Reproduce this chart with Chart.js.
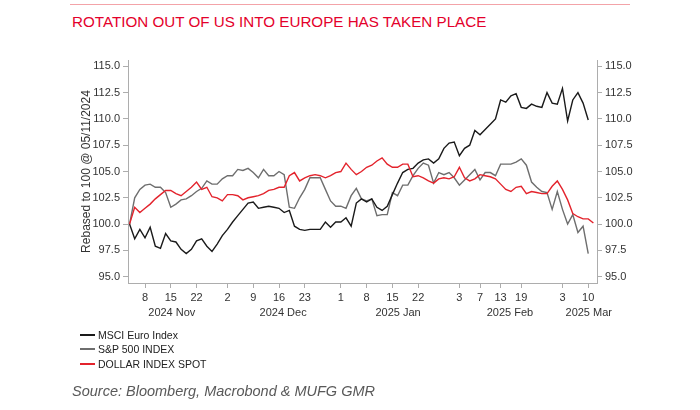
<!DOCTYPE html>
<html>
<head>
<meta charset="utf-8">
<script src="https://cdn.jsdelivr.net/npm/chart.js@4.4.1/dist/chart.umd.min.js"></script>
<style>
  html, body { margin: 0; padding: 0; background: #fff; }
  #wrap { position: relative; width: 700px; height: 410px; overflow: hidden; font-family: "Liberation Sans", Arial, sans-serif; }
  #topline { position: absolute; left: 70px; top: 4px; width: 560px; height: 1px; background: #f3a3a8; }
  #title { position: absolute; left: 72px; top: 13px; font-size: 15.2px; color: #e4002b; white-space: nowrap; }
  #chart { position: absolute; left: 0; top: 0; }
  .leg { position: absolute; left: 80px; font-size: 10.5px; color: #222; white-space: nowrap; line-height: 12px; }
  .leg i { display: inline-block; width: 15px; height: 1.5px; vertical-align: middle; margin-right: 3px; position: relative; top: -1px; }
  #source { position: absolute; left: 72px; top: 383px; font-size: 14.5px; font-style: italic; color: #595959; white-space: nowrap; }
</style>
</head>
<body>
<div id="wrap">
  <div id="topline"></div>
  <div id="title">ROTATION OUT OF US INTO EUROPE HAS TAKEN PLACE</div>
  <canvas id="chart" width="700" height="410"></canvas>
  <div class="leg" style="top:329px"><i style="background:#1a1a1a"></i>MSCI Euro Index</div>
  <div class="leg" style="top:343px"><i style="background:#6e6e6e"></i>S&amp;P 500 INDEX</div>
  <div class="leg" style="top:358px"><i style="background:#e3232c"></i>DOLLAR INDEX SPOT</div>
  <div id="source">Source: Bloomberg, Macrobond &amp; MUFG GMR</div>
</div>
<script>
// trading days from 5 Nov 2024 (index 0) to 11 Mar 2025
const msci = [
  100, 98.6, 99.5, 98.7, 99.7, 97.9, 97.7, 99.1, 98.4, 98.3,
  97.6, 97.2, 97.6, 98.4, 98.6, 97.9, 97.4, 98.1, 98.9, 99.5,
  100.2, 100.8, 101.4, 102.0, 102.1, 101.5, 101.6, 101.7, 101.6, 101.5,
  101.1, 101.3, 99.8, 99.5, 99.4, 99.5, 99.5, 99.5, 100.2, 99.7,
  100.2, 100.2, 100.6, 99.8, 102.0, 102.4, 102.1, 102.4, 101.6, 101.3,
  101.7, 102.8, 103.9, 104.9, 105.2, 105.3, 105.8, 106.1, 106.2, 105.8,
  106.2, 107.2, 107.7, 107.8, 106.5, 107.2, 107.5, 108.9, 108.5, 109.0,
  109.5, 110.0, 111.8, 111.6, 112.2, 112.4, 111.1, 111.0, 111.4, 111.2,
  111.1, 112.5, 111.5, 111.4, 112.9, 109.8, 111.8, 112.5, 111.5, 109.9
];
const spx = [
  100, 102.5, 103.3, 103.7, 103.8, 103.5, 103.5, 103.0, 101.6, 101.9,
  102.3, 102.4, 102.7, 103.1, 103.4, 104.1, 103.8, 103.8, 104.3, 104.6,
  104.6, 105.2, 105.1, 105.3, 104.9, 104.4, 105.2, 104.6, 104.6, 105.0,
  104.7, 101.6, 101.5, 102.5, 103.3, 104.4, 104.4, 104.4, 103.3, 102.2,
  101.7, 101.7, 101.5, 102.7, 103.4, 102.4, 102.2, 102.4, 100.8, 100.9,
  100.9, 103.0, 102.7, 103.7, 103.7, 104.6, 105.3, 105.8, 105.6, 103.9,
  104.9, 104.7, 104.9, 104.4, 103.7, 104.2, 104.7, 105.2, 104.2, 104.9,
  104.9, 104.6, 105.7, 105.7, 105.7, 105.9, 106.2, 105.6, 104.0, 103.5,
  103.1, 103.0, 101.4, 103.1, 101.4, 100.0, 100.9, 99.2, 99.8, 97.2
];
const dxy = [
  100, 101.6, 101.1, 101.5, 101.9, 102.4, 102.8, 103.2, 103.2, 102.9,
  102.7, 103.1, 103.5, 104.0, 103.3, 103.5, 102.6, 102.5, 102.2, 102.8,
  102.8, 102.7, 102.3, 102.5, 102.6, 102.7, 102.9, 103.2, 103.3, 103.5,
  103.5, 104.6, 104.9, 104.1, 104.4, 104.6, 104.7, 104.6, 104.4, 104.6,
  104.9, 105.0, 105.8, 105.2, 104.7, 105.0, 105.4, 105.6, 106.0, 106.3,
  105.7, 105.4, 105.4, 105.7, 105.7, 104.5, 104.6, 104.4, 104.1, 103.9,
  104.3, 104.4, 104.3, 104.5, 105.4, 104.4, 104.1, 104.3, 104.7, 104.6,
  104.5, 104.3, 103.8, 103.3, 103.1, 103.5, 103.6, 102.9, 103.1, 103.0,
  102.9, 102.9, 103.6, 104.1, 103.3, 102.3, 101.0, 100.7, 100.5, 100.5,
  100.1
];

const dayTicks = [3, 8, 13, 19, 24, 29, 34, 41, 46, 51, 56, 64, 68, 72, 76, 84, 89];
const dayLabels = ['8', '15', '22', '2', '9', '16', '23', '1', '8', '15', '22', '3', '7', '13', '19', '3', '10'];
const monthLabels = ['2024 Nov', '2024 Dec', '2025 Jan', '2025 Feb', '2025 Mar'];
const monthAt = [8.2, 29.8, 52.1, 73.8, 89.1];
const yTicks = [95, 97.5, 100, 102.5, 105, 107.5, 110, 112.5, 115];

const FONT = '"Liberation Sans", Arial, sans-serif';
const AXIS = '#adadad';
const TXT = '#333';

function pts(arr) { return arr.map((v, i) => ({ x: i, y: v })); }

const monthAxis = {
  id: 'monthAxis',
  afterDraw(chart) {
    const ctx = chart.ctx;
    const sx = chart.scales.x;
    ctx.save();
    ctx.font = '11px ' + FONT;
    ctx.fillStyle = TXT;
    ctx.textAlign = 'center';
    ctx.textBaseline = 'middle';
    monthLabels.forEach((m, k) => ctx.fillText(m, sx.getPixelForValue(monthAt[k]), sx.top + 30));
    ctx.restore();
  }
};

function yAxis(pos, w) {
  return {
    type: 'linear',
    position: pos,
    min: 94.4,
    max: 115.6,
    afterBuildTicks: s => { s.ticks = yTicks.map(v => ({ value: v })); },
    afterFit: s => { s.width = w; },
    ticks: { callback: v => Number(v).toFixed(1), font: { size: 11, family: FONT }, color: TXT, padding: 3 },
    grid: { drawOnChartArea: false, drawTicks: true, tickLength: 5, color: AXIS },
    border: { display: true, color: AXIS },
    title: { display: pos === 'left', text: 'Rebased to 100 @ 05/11/2024', font: { size: 12, family: FONT }, color: TXT }
  };
}

new Chart(document.getElementById('chart').getContext('2d'), {
  type: 'line',
  data: {
    datasets: [
      { label: 'MSCI Euro Index', data: pts(msci), borderColor: '#1a1a1a', borderWidth: 1.4, pointRadius: 0, order: 1 },
      { label: 'S&P 500 INDEX', data: pts(spx), borderColor: '#6e6e6e', borderWidth: 1.4, pointRadius: 0, order: 2 },
      { label: 'DOLLAR INDEX SPOT', data: pts(dxy), borderColor: '#e3232c', borderWidth: 1.4, pointRadius: 0, order: 0 }
    ]
  },
  options: {
    responsive: false,
    animation: false,
    devicePixelRatio: 1,
    layout: { padding: { left: 75, top: 60, right: 0, bottom: 0 } },
    plugins: { legend: { display: false }, tooltip: { enabled: false } },
    scales: {
      x: {
        type: 'linear',
        min: -0.3,
        max: 90.7,
        afterBuildTicks: s => { s.ticks = dayTicks.map(v => ({ value: v })); },
        afterFit: s => { s.height = 127; },
        ticks: {
          autoSkip: false, maxRotation: 0, padding: 3,
          callback: (v, i) => dayLabels[i],
          font: { size: 11, family: FONT }, color: TXT
        },
        grid: { drawOnChartArea: false, drawTicks: true, tickLength: 5, color: AXIS },
        border: { display: true, color: AXIS }
      },
      y: yAxis('left', 53),
      y2: yAxis('right', 103)
    }
  },
  plugins: [monthAxis]
});
</script>
</body>
</html>
